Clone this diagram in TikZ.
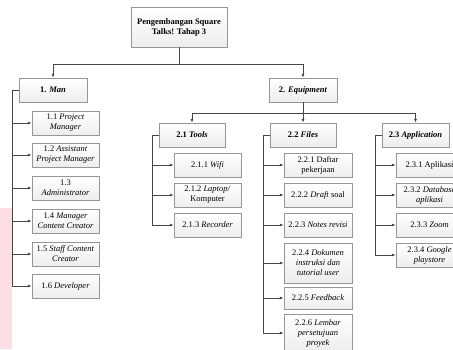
\documentclass[tikz,border=0pt]{standalone}
\usepackage{fontspec}
\setmainfont{Liberation Serif}
\usetikzlibrary{arrows.meta,shadows}
\definecolor{sidepink}{RGB}{253,222,228}
\definecolor{boxline}{RGB}{150,150,150}
\definecolor{linegray}{RGB}{70,70,70}

\begin{document}
\begin{tikzpicture}[
  x=1pt,y=-1pt,
  font=\fontsize{8.5}{10}\selectfont,
  box/.style={draw=boxline,top color=white,bottom color=gray!14,align=center,inner sep=1pt,
              minimum width=67pt,minimum height=24pt,
              drop shadow={shadow xshift=1pt,shadow yshift=-1pt,opacity=0.25}},
  head/.style={box,font=\fontsize{8.5}{10}\selectfont\bfseries},
  arr/.style={-{Latex[length=4pt,width=3pt]},draw=linegray,line width=0.8pt}
]
  \useasboundingbox (0,0) rectangle (453,349);
  \fill[sidepink] (0,208) rectangle (12,349);

  \node[head,minimum width=96pt,minimum height=40pt] (root) at (179,27) {Pengembangan Square\\Talks! Tahap 3};
  \node[head,minimum width=68pt] (man) at (53,90) {1. \textit{Man}};
  \node[head,minimum width=68pt] (equip) at (303,90) {2. \textit{Equipment}};

  \node[box] (m1) at (65.5,123) {1.1 \textit{Project}\\\textit{Manager}};
  \node[box] (m2) at (65.5,155) {1.2 \textit{Assistant}\\\textit{Project Manager}};
  \node[box] (m3) at (65.5,188) {1.3\\\textit{Administrator}};
  \node[box] (m4) at (65.5,221) {1.4 \textit{Manager}\\\textit{Content Creator}};
  \node[box] (m5) at (65.5,254) {1.5 \textit{Staff Content}\\\textit{Creator}};
  \node[box] (m6) at (65.5,286) {1.6 \textit{Developer}};

  \node[head,minimum width=66pt] (tools) at (192,135) {2.1 \textit{Tools}};
  \node[head,minimum width=66pt] (files) at (303,135) {2.2 \textit{Files}};
  \node[head,minimum width=67pt] (app) at (415.5,135) {2.3 \textit{Application}};

  \node[box] (t1) at (207.5,165) {2.1.1 \textit{Wifi}};
  \node[box] (t2) at (207.5,195) {2.1.2 \textit{Laptop/}\\Komputer};
  \node[box] (t3) at (207.5,225) {2.1.3 \textit{Recorder}};

  \node[box,minimum width=68pt] (f1) at (318,165) {2.2.1 Daftar\\pekerjaan};
  \node[box,minimum width=68pt] (f2) at (318,195) {2.2.2 \textit{Draft} soal};
  \node[box,minimum width=68pt] (f3) at (318,225) {2.2.3 \textit{Notes revisi}};
  \node[box,minimum width=68pt,minimum height=40pt] (f4) at (318,263) {2.2.4 \textit{Dokumen}\\\textit{instruksi dan}\\\textit{tutorial user}};
  \node[box,minimum width=68pt,minimum height=22pt] (f5) at (318,298) {2.2.5 \textit{Feedback}};
  \node[box,minimum width=68pt,minimum height=37pt] (f6) at (318,333) {2.2.6 \textit{Lembar}\\\textit{persetujuan}\\\textit{proyek}};

  \node[box] (a1) at (429.5,165) {2.3.1 Aplikasi};
  \node[box] (a2) at (429.5,195) {2.3.2 \textit{Database}\\\textit{aplikasi}};
  \node[box] (a3) at (429.5,225) {2.3.3 \textit{Zoom}};
  \node[box] (a4) at (429.5,255) {2.3.4 \textit{Google}\\\textit{playstore}};

  \coordinate (rootbus) at (179,64);
  \coordinate (equipbus) at (303,113);
  \draw[arr] (root.south) -- (rootbus) -| (man.north);
  \draw[arr] (rootbus) -| (equip.north);
  \draw[arr] (equip.south) -- (equipbus) -| (tools.north);
  \draw[arr] (equipbus) -- (files.north);
  \draw[arr] (equipbus) -| (app.north);

  \foreach \n in {m1,m2,m3,m4,m5,m6}
    \draw[arr] (man.west) -- ++(-6,0) |- (\n.west);
  \foreach \n in {t1,t2,t3}
    \draw[arr] (tools.west) -- ++(-6,0) |- (\n.west);
  \foreach \n in {f1,f2,f3,f4,f5,f6}
    \draw[arr] (files.west) -- ++(-6,0) |- (\n.west);
  \foreach \n in {a1,a2,a3,a4}
    \draw[arr] (app.west) -- ++(-6,0) |- (\n.west);
\end{tikzpicture}
\end{document}
